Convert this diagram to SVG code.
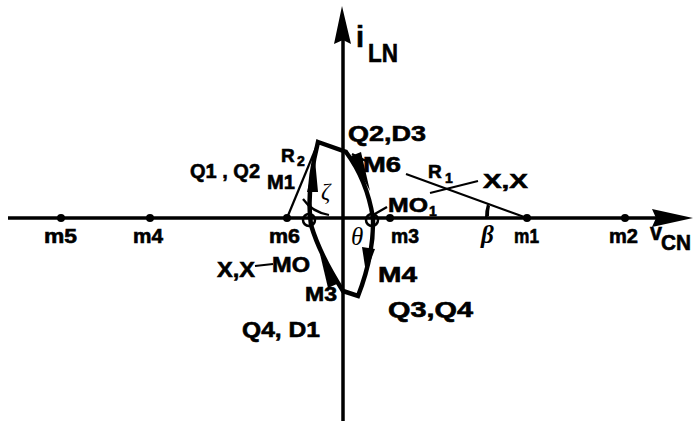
<svg xmlns="http://www.w3.org/2000/svg" width="695" height="425" viewBox="0 0 695 425">
<style>
.t{font-family:"Liberation Sans",Arial,sans-serif;font-weight:bold;fill:#000;stroke:#000;stroke-width:0.6}
.m{font-family:"Liberation Sans",Arial,sans-serif;font-weight:bold;fill:#000;stroke:#000;stroke-width:0.6;font-size:20px}
.g{font-family:"Liberation Serif","Times New Roman",serif;font-style:italic;fill:#000}
.ax{stroke:#000;stroke-width:3.5;fill:none}
.thin{stroke:#000;stroke-width:2.2;fill:none}
.thick{stroke:#000;stroke-width:4.5;fill:none;stroke-linejoin:miter}
.dot{fill:#000}
.ah{fill:#000}
</style>
<rect width="695" height="425" fill="#fff"/>
<g id="axes">
  <line class="ax" x1="8" y1="218" x2="660" y2="218"/>
  <polygon class="ah" points="693,218 652,209 656,218 652,227"/>
  <line class="ax" x1="343" y1="421" x2="343" y2="35"/>
  <polygon class="ah" points="342,6 334,44 343,40 351,44"/>
  <text class="t" x="356" y="47" font-size="29">i</text>
  <text class="t" x="368" y="62" font-size="26" textLength="30" lengthAdjust="spacingAndGlyphs">LN</text>
  <text class="t" x="650" y="240" font-size="24" textLength="12" lengthAdjust="spacingAndGlyphs">v</text>
  <text class="t" x="661" y="250" font-size="22" textLength="30" lengthAdjust="spacingAndGlyphs">CN</text>
</g>
<g id="m5"><circle class="dot" cx="61" cy="218" r="4"/><text class="m" x="44" y="243" textLength="33" lengthAdjust="spacingAndGlyphs">m5</text></g>
<g id="m4"><circle class="dot" cx="150" cy="218" r="4"/><text class="m" x="133" y="243" textLength="30" lengthAdjust="spacingAndGlyphs">m4</text></g>
<g id="m6"><circle class="dot" cx="287" cy="218" r="4"/><text class="m" x="269" y="243" textLength="31" lengthAdjust="spacingAndGlyphs">m6</text></g>
<g id="m3"><circle class="dot" cx="390" cy="218" r="4"/><text class="m" x="391" y="243" textLength="28" lengthAdjust="spacingAndGlyphs">m3</text></g>
<g id="m1"><circle class="dot" cx="527" cy="218" r="4"/><text class="m" x="514" y="243" textLength="25" lengthAdjust="spacingAndGlyphs">m1</text></g>
<g id="m2"><circle class="dot" cx="625" cy="218" r="4"/><text class="m" x="609" y="243" textLength="29" lengthAdjust="spacingAndGlyphs">m2</text></g>
<g id="connectors">
  <line class="thin" x1="406" y1="174" x2="527" y2="218"/>
  <line class="thin" x1="430" y1="193" x2="478" y2="181"/>
  <path class="ah" d="M485,218 A42,42 0 0 1 487,204 L490,206 A39,39 0 0 0 489,216 Z"/>
  <line class="thin" x1="287" y1="218" x2="318" y2="143"/>
  <path class="thin" d="M303,199 Q312,212 329,215"/>
  <line class="thin" x1="387" y1="207" x2="373" y2="215"/>
  <line class="thin" x1="352" y1="154" x2="366" y2="161"/>
  <line class="thin" x1="255" y1="266" x2="273" y2="264"/>
  <path class="thick" d="M318,142 L346,152 Q367,180 373,218 Q374,255 358,296 L343,291 Q320,255 311,225 Q306,190 318,142 Z"/>
  <circle cx="309" cy="220" r="6" fill="none" stroke="#000" stroke-width="2.5"/>
  <circle cx="372" cy="220" r="6" fill="none" stroke="#000" stroke-width="2.5"/>
  <polygon class="ah" points="351,156 361,152 370,191"/>
  <polygon class="ah" points="362,247 375,249 366,273"/>
  <polygon class="ah" points="339,283 328,288 320,254"/>
  <polygon class="ah" points="307,192 318,192 315,160"/>
</g>
<g id="labels">
  <text class="t" x="190" y="178" font-size="21" textLength="70" lengthAdjust="spacingAndGlyphs">Q1 , Q2</text>
  <text class="t" x="281" y="162" font-size="19">R</text>
  <text class="t" x="297" y="166" font-size="14">2</text>
  <text class="t" x="267" y="189" font-size="21" textLength="28" lengthAdjust="spacingAndGlyphs">M1</text>
  <text class="t" x="348" y="141" font-size="22" textLength="78" lengthAdjust="spacingAndGlyphs">Q2,D3</text>
  <text class="t" x="363" y="172" font-size="22" textLength="38" lengthAdjust="spacingAndGlyphs">M6</text>
  <text class="t" x="428" y="178" font-size="19">R</text>
  <text class="t" x="445" y="183" font-size="14">1</text>
  <text class="t" x="483" y="188" font-size="21" textLength="45" lengthAdjust="spacingAndGlyphs">X,X</text>
  <text class="t" x="388" y="212" font-size="21" textLength="40" lengthAdjust="spacingAndGlyphs">MO</text>
  <text class="t" x="429" y="216" font-size="14">1</text>
  <text class="t" x="217" y="277" font-size="22" textLength="38" lengthAdjust="spacingAndGlyphs">X,X</text>
  <text class="t" x="272" y="272" font-size="22" textLength="38" lengthAdjust="spacingAndGlyphs">MO</text>
  <text class="t" x="378" y="282" font-size="22" textLength="39" lengthAdjust="spacingAndGlyphs">M4</text>
  <text class="t" x="305" y="301" font-size="20" textLength="32" lengthAdjust="spacingAndGlyphs">M3</text>
  <text class="t" x="388" y="317" font-size="22" textLength="85" lengthAdjust="spacingAndGlyphs">Q3,Q4</text>
  <text class="t" x="242" y="337" font-size="22" textLength="78" lengthAdjust="spacingAndGlyphs">Q4, D1</text>
  <text class="g" x="481" y="243" font-size="25" font-weight="bold">β</text>
  <text class="g" x="351" y="245" font-size="25">θ</text>
  <text class="g" x="321" y="199" font-size="23">ζ</text>
</g>
</svg>
